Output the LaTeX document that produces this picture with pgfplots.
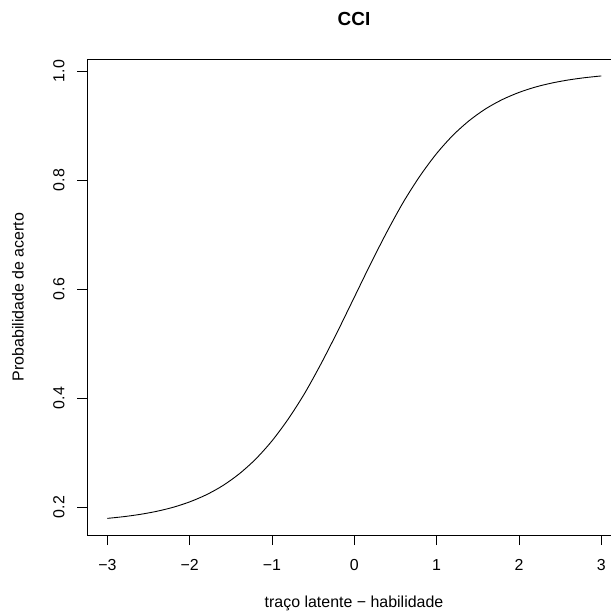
\documentclass[border=0pt]{standalone}
\usepackage{pgfplots}
\pgfplotsset{compat=1.18}
\usepackage{fontspec}
\setmainfont{Liberation Sans}
\begin{document}
\begin{tikzpicture}
\begin{axis}[
  at={(87bp,78bp)}, anchor=south west,
  scale only axis, width=534bp, height=476bp,
  xmin=-3.248, xmax=3.24, ymin=0.1486, ymax=1.022,
  axis line style={line width=0.8bp},
  xtick={-3,-2,-1,0,1,2,3},
  xticklabels={−3,−2,−1,0,1,2,3},
  ytick={0.2,0.4,0.6,0.8,1.0},
  yticklabels={0.2,0.4,0.6,0.8,1.0},
  xtick pos=bottom, ytick pos=left,
  tick align=outside,
  major tick length=10bp,
  every tick/.style={black, line width=0.8bp},
  tick label style={font=\fontsize{16}{16}\selectfont},
  xticklabel style={anchor=center, yshift=-20bp},
  yticklabel style={rotate=90, anchor=center, yshift=18bp},
  xlabel={traço latente − habilidade},
  ylabel={Probabilidade de acerto},
  label style={font=\fontsize{16}{16}\selectfont},
  xlabel style={at={(axis description cs:0.5,0)}, anchor=center, yshift=-68bp},
  ylabel style={at={(axis description cs:0,0.5)}, anchor=center, yshift=69bp},
  title={CCI},
  title style={at={(axis description cs:0.5,1)}, anchor=center, yshift=34bp, font=\bfseries\fontsize{19}{19}\selectfont},
]
\addplot[black, line width=0.9bp, smooth] coordinates {
(-3.0,0.1791) (-2.8,0.1823) (-2.6,0.1865) (-2.4,0.1921) (-2.2,0.1995)
(-2.0,0.2094) (-1.8,0.2223) (-1.6,0.2390) (-1.4,0.2606) (-1.2,0.2877)
(-1.0,0.3214) (-0.8,0.3621) (-0.6,0.4095) (-0.4,0.4641) (-0.2,0.5232)
(0.0,0.5850) (0.2,0.6468) (0.4,0.7059) (0.6,0.7605) (0.8,0.8079)
(1.0,0.8486) (1.2,0.8823) (1.4,0.9094) (1.6,0.9310) (1.8,0.9477)
(2.0,0.9606) (2.2,0.9705) (2.4,0.9779) (2.6,0.9835) (2.8,0.9877)
(3.0,0.9909)
};
\end{axis}
\pgfresetboundingbox
\path[use as bounding box] (0,0) rectangle (611bp,613bp);
\end{tikzpicture}
\end{document}
